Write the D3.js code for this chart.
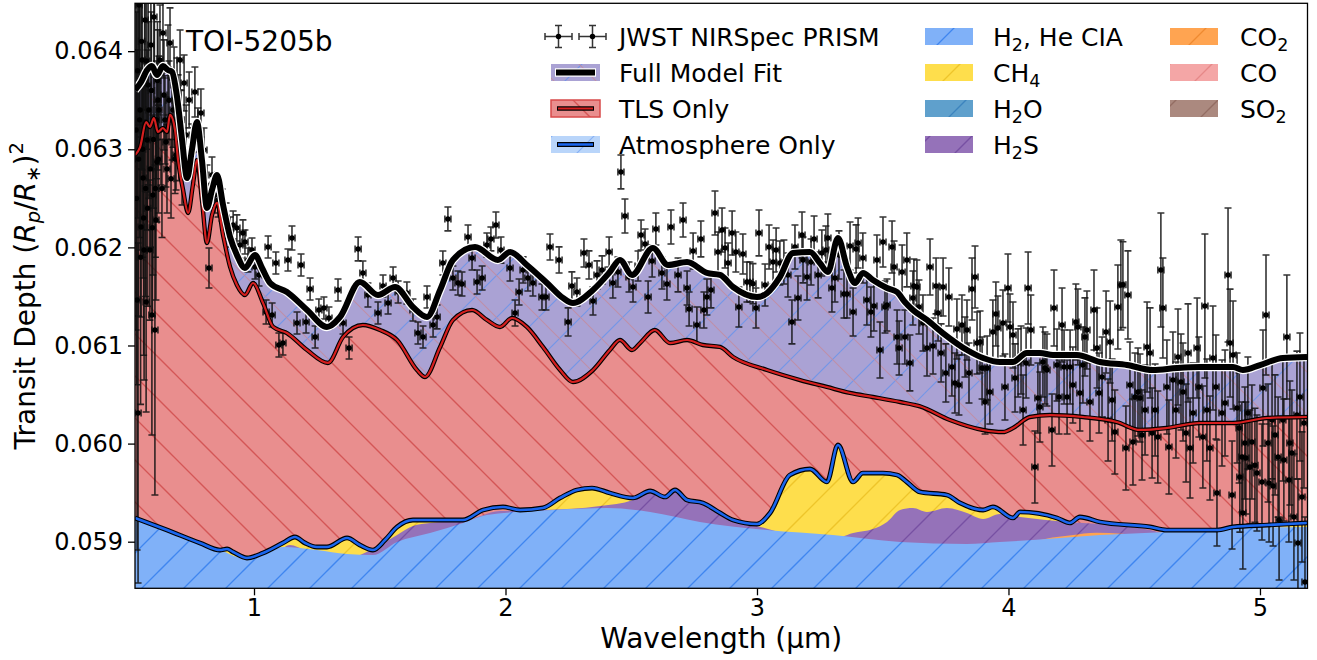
<!DOCTYPE html>
<html><head><meta charset="utf-8">
<script src="https://cdn.jsdelivr.net/npm/d3@7"></script>
<style>body{margin:0;background:#fff}svg text{font-family:"DejaVu Sans",sans-serif}</style>
</head><body><svg id="c" width="1317" height="660"></svg>
<script>
// ---------------- DATA (wavelength in µm, transit depth in ppm) ----------------
const obsWl = [
.531,.535,.539,.543,.547,.551,.555,.559,.563,.567,.571,.575,.579,.586,.590,.594,.598,.602,.606,.610,.614,.618,.626,.630,.638,.642,.650,.658,.666,.674,.682,.690,.698,.706,.714,.722,.730,.742,.753,.765,.777,.789,.801,.813,.821,.833,.845,.857,.873,.889,.905,.917,.932,.944,.956,.964,.976,.992,1.004,1.020,
1.048,1.056,1.072,1.087,1.099,1.115,1.135,1.151,1.171,1.187,1.207,1.223,1.243,1.258,1.278,1.298,1.334,1.354,1.378,1.414,1.433,1.453,1.493,1.513,1.533,1.553,1.573,1.608,1.632,1.652,1.672,1.688,
1.712,1.728,1.751,1.771,1.791,1.811,1.827,1.851,1.867,1.887,1.907,1.926,1.942,1.962,1.982,2.018,2.038,2.054,2.070,2.089,2.109,2.145,2.161,2.177,2.213,2.249,2.264,2.284,2.312,2.332,2.348,2.364,2.384,2.412,2.427,2.447,2.459,2.475,2.491,2.507,2.527,2.539,2.555,2.567,2.583,2.598,2.622,2.642,2.658,2.686,2.706,2.722,2.730,2.746,2.761,2.777,2.789,2.801,2.817,2.833,2.845,
2.861,2.873,2.885,2.901,2.916,2.928,2.944,2.960,2.972,2.984,2.996,3.008,3.032,3.048,3.064,3.076,3.091,3.107,3.123,3.139,3.151,3.163,3.179,3.183,3.199,3.215,3.227,3.243,3.258,3.274,3.282,3.298,3.310,3.326,3.346,3.358,3.370,3.382,3.394,3.402,3.421,3.437,3.453,3.465,3.477,3.489,3.501,3.509,3.517,3.537,3.545,3.557,3.565,3.577,3.588,3.596,3.608,3.620,3.624,3.636,3.644,3.660,3.676,3.688,3.700,3.712,3.720,3.732,3.740,3.751,3.763,3.775,3.787,3.795,3.803,3.815,3.827,3.835,3.843,3.855,3.867,3.875,3.887,3.895,3.907,3.915,3.926,3.938,3.950,3.958,
3.978,3.986,3.998,4.006,4.018,4.026,4.038,4.050,4.058,4.070,4.078,4.089,4.105,4.117,4.125,4.137,4.145,4.153,4.173,4.181,4.193,4.201,4.213,4.221,4.233,4.245,4.256,4.268,4.276,4.284,4.296,4.304,4.312,4.324,4.340,4.352,4.360,4.372,4.388,4.396,4.404,4.412,4.423,4.435,4.447,4.455,4.467,4.475,4.483,4.495,4.503,4.515,4.523,4.531,4.543,4.551,4.563,4.571,4.583,4.594,4.606,4.614,4.630,4.638,4.654,4.666,4.674,4.686,4.694,4.706,4.714,4.722,4.734,4.750,4.757,4.773,4.781,4.789,4.801,4.813,4.825,4.829,4.849,4.861,4.873,4.881,4.889,4.893,4.909,4.917,4.920,4.928,4.932,4.940,4.944,4.952,4.960,4.968,4.980,4.988,5.008,5.012,5.024,5.032,5.036,5.048,5.052,5.060,5.072,5.076,5.091,5.095,5.107,5.115,5.119,5.127,5.135,5.147,5.151,5.159,5.167,5.175,5.179,
.533,.537,.541,.545,.549,.553,.557,.561,.565,.569,.573,.577,.582,.588,.592,.596,.600,.604,.608,.612,.616,.620,.622,.634,.646,.654,.662,.670,.678,.686,.694,.702,.710
];
const obsDepth = [
63197,61464,60312,64471,63401,62208,63910,62707,61973,64318,61443,63095,63656,61973,64063,61311,62534,64349,61158,62279,62871,63503,63910,63197,64186,63554,63074,63808,64084,63299,63656,62942,63401,63910,62738,63676,63146,63503,62993,63584,63197,63370,62993,62636,61790,62738,62534,62483,62432,62300,62157,62228,62198,62024,62147,62055,61872,61973,61800,61719,
61341,62004,61311,61841,61005,61025,61872,62096,61229,61821,61240,61576,61087,61362,61382,61280,61566,61229,60974,61984,61739,61515,61331,61607,61433,61688,61545,61535,61362,61127,61087,61494,
61209,61291,61841,62290,61688,61637,61627,62106,61892,61647,61688,62024,62086,62228,61973,61790,61331,61545,61770,61688,61637,61494,61494,62004,61872,61240,61607,61545,61943,61821,61454,61719,61770,61953,61637,61749,62769,62320,61698,61596,61810,62126,62035,61494,61861,62188,61739,61627,62208,61719,62279,61586,61372,61963,61209,62086,61362,61494,61566,62351,61953,
62177,61994,61841,62147,61953,61392,61933,61647,61647,61630,61382,62147,61617,62004,61851,61973,61841,61851,61719,61240,62004,61484,62126,61872,61698,61851,62086,61719,61943,61973,62096,61586,61688,61923,61525,61525,62014,61341,61984,62045,61892,61464,61341,61403,61872,60954,62055,61392,61413,62004,61800,61087,60974,61749,61087,61872,60822,61484,61607,61596,61392,61229,60974,61800,60995,61607,61331,60924,61596,60720,61494,60781,60618,61168,60597,61209,60985,61158,60720,61576,61698,61025,61036,60771,60424,60771,60526,61138,61321,61178,
61229,60577,61586,61189,61107,60669,60822,60852,60342,60822,61586,61158,59761,60465,60373,60832,60771,60750,60139,61382,60801,60475,61209,60781,60475,60781,60597,61240,61189,60516,60801,61087,61158,60424,61362,60974,60516,60679,61138,60241,61036,60444,60118,61392,61617,61620,59955,61515,60597,60016,60475,60526,60465,60088,60342,60985,60924,60108,60342,60067,61770,61382,60577,59965,60648,60342,60883,60628,60526,60108,60924,59955,60312,60974,60577,60067,61403,60342,59955,60873,60577,59496,60312,60414,61719,61025,59476,60903,60363,60159,59659,59863,59292,60006,59853,60312,59761,60016,59780,59700,59608,60567,61311,60006,59598,60241,59568,60088,59863,59221,60241,59833,61087,59629,60006,59904,59252,60291,58987,60475,59456,60210,58589,
62500,63800,62900,63300,61900,64100,63000,62300,63700,62600,63900,62400,63400,62800,63600,62200,63100,63800,62600,63300,63700,62900,63400,62600,63300,62800,63500,62700,63400,62900,63600,63000,63300
];
const obsErr = [
2039,2549,1733,1223,1427,917,1121,1019,1325,917,1121,917,1019,714,816,1223,816,612,1682,816,612,714,561,561,459,561,459,459,357,408,387,357,357,306,306,285,306,285,265,255,224,245,224,204,204,183,183,173,163,153,153,143,133,133,133,122,122,122,122,112,
122,112,122,112,122,122,112,122,112,112,112,112,112,112,112,112,112,112,112,122,122,122,112,112,112,112,112,112,112,112,112,112,
122,122,122,122,122,122,122,122,122,122,122,122,122,133,133,133,133,133,133,133,133,133,133,133,133,143,143,143,143,143,143,143,143,153,153,153,173,173,153,153,153,153,153,163,163,163,163,163,173,173,173,173,173,183,183,183,183,183,183,224,204,
224,204,204,224,204,204,204,204,204,204,204,234,214,224,224,224,224,224,224,224,224,224,234,234,234,234,234,234,234,245,245,245,245,245,245,245,245,245,245,255,255,255,255,255,255,285,255,265,265,265,265,275,275,275,275,275,285,275,275,275,275,285,285,285,285,285,285,296,296,296,296,296,306,306,306,306,306,306,306,316,316,316,316,316,326,326,326,326,326,326,
336,336,347,336,336,347,347,347,357,357,367,357,367,357,357,357,367,367,367,387,367,377,377,377,377,377,387,387,387,387,387,398,398,398,408,408,408,408,418,418,418,418,428,428,459,438,428,449,438,438,449,449,449,459,459,459,459,459,469,469,581,510,479,479,489,489,489,489,500,500,500,510,510,510,510,520,734,520,530,530,530,540,540,540,683,550,550,550,561,561,561,561,571,571,571,571,581,581,581,591,591,591,612,601,601,601,612,612,612,612,622,622,632,632,632,642,642,652,652,652,663,663,663,
1900,1500,1600,1200,1500,1300,1100,1400,1000,1100,900,1000,900,800,800,900,700,700,700,600,600,550,550,500,450,450,400,400,380,350,330,320,300
];
const obsXErr = 0.012; // half bin width (µm)

const fullWl = [.527,.551,.575,.594,.614,.638,.658,.674,.694,.714,.734,.753,.773,.793,.813,.833,.853,.877,.905,.932,.964,1.004,1.032,1.064,1.131,1.211,1.290,1.342,1.421,1.493,1.561,1.632,1.688,1.740,1.791,1.879,1.970,2.018,2.085,2.165,2.229,2.268,2.348,2.415,2.455,2.503,2.586,2.646,2.722,2.801,2.853,2.905,3.000,3.040,3.091,3.143,3.211,3.250,3.282,3.322,3.358,3.390,3.421,3.461,3.517,3.557,3.588,3.620,3.676,3.739,3.835,3.899,3.966,4.018,4.073,4.125,4.177,4.272,4.364,4.471,4.574,4.670,4.761,4.893,4.932,5.000,5.091,5.187];
const fullDepth = [63605,63686,63808,63849,63757,63849,63808,63788,63533,63095,62707,62993,63278,62891,62402,62585,62738,62432,62106,61923,61790,61923,61790,61637,61545,61362,61189,61291,61647,61515,61596,61392,61291,61566,61872,62004,61872,61953,61821,61637,61484,61433,61566,61749,61872,61719,61994,61821,61851,61739,61719,61596,61494,61535,61698,61943,61953,61841,61749,62096,61800,61637,61739,61668,61586,61545,61443,61362,61260,61127,60954,60873,60832,60832,60924,60924,60903,60903,60832,60801,60750,60771,60781,60781,60750,60801,60873,60883];

const tlsWl = [.527,.547,.571,.586,.602,.618,.638,.654,.666,.686,.698,.718,.738,.757,.773,.793,.813,.833,.853,.877,.905,.932,.964,.996,1.036,1.076,1.131,1.211,1.294,1.354,1.433,1.501,1.569,1.648,1.680,1.740,1.791,1.867,1.926,1.978,2.026,2.085,2.149,2.217,2.268,2.348,2.415,2.455,2.503,2.535,2.594,2.654,2.722,2.785,2.853,2.905,3.040,3.171,3.278,3.370,3.461,3.569,3.648,3.767,3.899,3.978,4.018,4.085,4.165,4.296,4.431,4.523,4.630,4.761,4.893,5.028,5.187];
const tlsDepth = [62942,63023,63278,63227,63319,63176,63217,63176,63350,63197,62891,62585,62351,62636,62891,62483,62045,62330,62453,62126,61800,61617,61515,61637,61433,61189,61127,60954,60822,61087,61209,61158,61056,60750,60679,60985,61260,61362,61260,61189,61280,61189,60985,60750,60628,60750,60954,61056,60954,61025,61158,61025,61056,61005,60985,60883,60750,60648,60577,60516,60475,60424,60380,60241,60139,60118,60159,60271,60291,60271,60220,60139,60159,60210,60210,60261,60271];

const atmWl = [.527,.654,.785,.865,.893,.917,.972,1.036,1.115,1.163,1.203,1.250,1.290,1.370,1.421,1.473,1.521,1.569,1.632,1.700,1.831,1.911,1.990,2.058,2.149,2.217,2.284,2.344,2.415,2.507,2.575,2.634,2.674,2.722,2.785,2.853,2.905,3.000,3.052,3.131,3.211,3.278,3.322,3.382,3.421,3.501,3.557,3.596,3.648,3.755,3.807,3.899,3.938,4.018,4.046,4.193,4.244,4.284,4.364,4.563,4.630,4.829,4.893,5.028,5.187];
const atmDepth = [59242,59119,58987,58915,58926,58895,58834,58885,58987,59048,58987,58946,58946,59038,58966,58915,59017,59150,59221,59221,59221,59323,59354,59323,59344,59446,59527,59547,59496,59446,59517,59456,59527,59425,59395,59293,59221,59180,59293,59680,59741,59609,59986,59609,59700,59700,59680,59609,59507,59476,59395,59323,59354,59242,59303,59242,59191,59252,59201,59150,59119,59119,59150,59170,59191];

const ciaWl = [.527,.654,.785,.865,.956,1.036,1.115,1.183,1.250,1.370,1.473,1.569,1.700,1.831,1.926,2.189,2.404,2.575,2.773,3.040,3.302,3.569,3.835,3.966,4.097,4.364,4.630,4.893,5.187];
const ciaDepth = [59242,59119,58987,58915,58834,58875,58946,58936,58915,58875,58864,58997,59089,59191,59272,59323,59344,59303,59201,59119,59068,58997,58977,58997,59017,59068,59099,59140,59150];

const ch4Wl = [.527,.785,.845,.873,.893,.944,1.036,1.115,1.163,1.203,1.250,1.370,1.421,1.473,1.521,1.569,1.632,1.700,1.831,1.978,2.058,2.149,2.217,2.284,2.344,2.415,2.507,2.575,2.773,3.000,3.052,3.131,3.211,3.278,3.322,3.382,3.421,3.501,3.557,3.596,3.648,3.755,3.807,3.899,3.938,4.018,4.046,4.193,4.244,4.364,4.563,4.893,5.187];
const ch4Depth = [58559,58813,58895,58915,58915,58854,58864,58976,59038,58976,58936,59017,58956,58905,59007,59129,59201,59201,59170,59303,59292,59333,59435,59517,59537,59486,59415,59303,59170,59160,59282,59670,59731,59598,59975,59598,59690,59690,59670,59598,59496,59466,59384,59313,59343,59231,59282,59221,59160,59140,59089,59129,59170];

const h2sWl = [.527,.984,1.084,1.143,1.203,1.342,1.501,1.569,1.632,1.700,1.831,1.978,2.149,2.376,2.507,2.575,2.634,2.674,2.722,2.785,2.853,2.905,3.000,3.131,3.290,3.382,3.461,3.517,3.569,3.620,3.676,3.755,3.835,3.899,3.966,4.046,4.233,4.364,4.563,4.630,4.893,5.187];
const h2sDepth = [58609,58660,58864,58966,58915,58813,58966,59068,59160,59191,59211,59313,59323,59364,59425,59507,59456,59517,59425,59384,59282,59211,59160,59068,59017,59089,59129,59201,59323,59343,59303,59343,59292,59231,59282,59252,59201,59180,59119,59078,59068,59068];

const co2Wl = [.527,3.90,4.05,4.15,4.25,4.35,4.45,4.60,4.80,5.187];
const co2Depth = [58600,58750,58950,59030,59065,59090,59080,59040,58980,58900];

const xTicks = [1,2,3,4,5];
const yTicks = [0.059,0.060,0.061,0.062,0.063,0.064];

// ---------------- CHART ----------------
const X0=135, X1=1307.5, Y0=588.3, Y1=3.3;
const x = d3.scaleLinear().domain([0.5268,5.189]).range([X0,X1]);
const y = d3.scaleLinear().domain([0.058525,0.064488]).range([Y0,Y1]);
const svg = d3.select('#c');
const defs = svg.append('defs');
defs.append('clipPath').attr('id','clip').append('rect').attr('x',X0).attr('y',Y1).attr('width',X1-X0).attr('height',Y0-Y1);

function makePattern(id,bg,hatches){
  const p=defs.append('pattern').attr('id',id).attr('patternUnits','userSpaceOnUse')
    .attr('x',0).attr('y',0).attr('width',42).attr('height',42);
  p.append('rect').attr('width',42).attr('height',42).attr('fill',bg);
  hatches.forEach(h=>{
    const c = h.dir==='/'?16:31;
    [-84,-42,0,42,84].forEach(k=>{
      const K=c+k; let a;
      if(h.dir==='/') a=[-10,K+10,K+10,-10]; else a=[-10,K-10,52,K+52];
      p.append('line').attr('x1',a[0]).attr('y1',a[1]).attr('x2',a[2]).attr('y2',a[3])
        .attr('stroke',h.color).attr('stroke-width',h.w).attr('stroke-opacity',h.o||1);
    });
  });
}
makePattern('pFull','#aaa2d4',[{dir:'/',color:'#7396e8',w:1.2},{dir:'\\',color:'#c38a9c',w:1.1,o:0.8}]);
makePattern('pTLS','#e98e8e',[{dir:'\\',color:'#d45656',w:1.3}]);
makePattern('pAtm','#b9d5fa',[{dir:'/',color:'#86b0f5',w:1.2}]);
makePattern('pCIA','#80b1f8',[{dir:'/',color:'#3f86f0',w:1.3}]);
makePattern('pCH4','#fede4c',[{dir:'/',color:'#eec52a',w:1.3}]);
makePattern('pH2O','#5fa0cc',[{dir:'/',color:'#3c84be',w:1.3}]);
makePattern('pH2S','#9572b9',[{dir:'/',color:'#7750a3',w:1.3}]);
makePattern('pCO2','#ffa451',[{dir:'/',color:'#ef8a30',w:1.3}]);
makePattern('pCO','#f4a6a6',[{dir:'/',color:'#e68888',w:1.3}]);
makePattern('pSO2','#ab897f',[{dir:'/',color:'#936d63',w:1.3}]);

const ser=(w,d)=>w.map((v,i)=>({w:v,v:d[i]/1e6}));
const area=d3.area().curve(d3.curveMonotoneX).x(d=>x(d.w)).y0(Y0).y1(d=>y(d.v));
const line=d3.line().curve(d3.curveMonotoneX).x(d=>x(d.w)).y(d=>y(d.v));

const plot=svg.append('g').attr('clip-path','url(#clip)');
const full=ser(fullWl,fullDepth), tls=ser(tlsWl,tlsDepth), atm=ser(atmWl,atmDepth);
plot.append('path').attr('d',area(full)).attr('fill','url(#pFull)');
plot.append('path').attr('d',area(tls)).attr('fill','url(#pTLS)');
plot.append('path').attr('d',area(ser(ch4Wl,ch4Depth))).attr('fill','url(#pCH4)');
plot.append('path').attr('d',area(ser(h2sWl,h2sDepth))).attr('fill','url(#pH2S)');
plot.append('path').attr('d',area(ser(co2Wl,co2Depth))).attr('fill','url(#pCO2)');
plot.append('path').attr('d',area(ser(ciaWl,ciaDepth))).attr('fill','url(#pCIA)');

// observations
const n=Math.min(obsWl.length,obsDepth.length,obsErr.length);
const obs=d3.range(n).map(i=>({w:obsWl[i],v:obsDepth[i]/1e6,e:obsErr[i]/1e6}));
const eb=plot.append('g').attr('stroke','#111').attr('stroke-opacity',0.85).attr('stroke-width',1.6).attr('fill','none');
const cap=3.5;
obs.forEach(d=>{
  const cx=x(d.w), cy=y(d.v), t=y(d.v+d.e), b=y(d.v-d.e), l=x(d.w-obsXErr), r=x(d.w+obsXErr);
  eb.append('path').attr('d',`M${cx},${t}V${b}M${cx-cap},${t}H${cx+cap}M${cx-cap},${b}H${cx+cap}M${l},${cy}H${r}M${l},${cy-cap}V${cy+cap}M${r},${cy-cap}V${cy+cap}`);
});
plot.append('g').selectAll('circle').data(obs).join('circle')
  .attr('cx',d=>x(d.w)).attr('cy',d=>y(d.v)).attr('r',2.7).attr('fill','#000');

// model lines
plot.append('path').attr('d',line(atm)).attr('fill','none').attr('stroke','#000').attr('stroke-width',4.8);
plot.append('path').attr('d',line(atm)).attr('fill','none').attr('stroke','#1a66ee').attr('stroke-width',2.6);
plot.append('path').attr('d',line(tls)).attr('fill','none').attr('stroke','#000').attr('stroke-width',4.4);
plot.append('path').attr('d',line(tls)).attr('fill','none').attr('stroke','#d61f1f').attr('stroke-width',2.2);
plot.append('path').attr('d',line(full)).attr('fill','none').attr('stroke','#fff').attr('stroke-width',8.5);
plot.append('path').attr('d',line(full)).attr('fill','none').attr('stroke','#000').attr('stroke-width',6);

// axes
const styleAxis=g=>{g.select('.domain').remove();
  g.selectAll('text').attr('font-size',24).attr('font-family','DejaVu Sans').attr('fill','#000');
  g.selectAll('line').attr('stroke','#000').attr('stroke-width',1.3);};
svg.append('g').attr('transform',`translate(0,${Y0})`)
  .call(d3.axisBottom(x).tickValues(xTicks).tickFormat(d3.format('d')).tickSize(7).tickPadding(4)).call(styleAxis);
svg.append('g').attr('transform',`translate(${X0},0)`)
  .call(d3.axisLeft(y).tickValues(yTicks).tickFormat(d3.format('.3f')).tickSize(7).tickPadding(5)).call(styleAxis);
svg.append('rect').attr('x',X0).attr('y',Y1).attr('width',X1-X0).attr('height',Y0-Y1)
  .attr('fill','none').attr('stroke','#000').attr('stroke-width',1.3);

// labels
svg.append('text').attr('x',(X0+X1)/2).attr('y',648).attr('text-anchor','middle').attr('font-size',28).text('Wavelength (µm)');
const yl=svg.append('text').attr('transform',`translate(35,${(Y0+Y1)/2}) rotate(-90)`).attr('text-anchor','middle').attr('font-size',28);
yl.append('tspan').text('Transit Depth (');
yl.append('tspan').attr('font-style','italic').text('R');
yl.append('tspan').attr('font-style','italic').attr('font-size',19.6).attr('dy',5).text('p');
yl.append('tspan').attr('dy',-5).text('/');
yl.append('tspan').attr('font-style','italic').text('R');
yl.append('tspan').attr('font-size',19.6).attr('dy',5).text('∗');
yl.append('tspan').attr('dy',-5).text(')');
yl.append('tspan').attr('font-size',19.6).attr('dy',-12).text('2');
svg.append('text').attr('x',186).attr('y',51).attr('font-size',28).text('TOI-5205b');

// legend
const rows=[36.5,72.5,108.5,144.5];
const lg=svg.append('g');
function label(xp,yp,parts){
  const t=lg.append('text').attr('x',xp).attr('y',yp+9).attr('font-size',25);
  let shifted=false;
  parts.forEach(p=>{
    if(typeof p==='string'){ const s=t.append('tspan').text(p); if(shifted){s.attr('dy',-5);shifted=false;} }
    else { t.append('tspan').attr('font-size',17.5).attr('dy',5).text(p.sub); shifted=true; }
  });
}
// JWST handle
[558.5,592.5].forEach(cx=>{
  const cy=rows[0];
  lg.append('path').attr('d',`M${cx},${cy-11}V${cy+11}M${cx-3.5},${cy-11}H${cx+3.5}M${cx-3.5},${cy+11}H${cx+3.5}M${cx-13.5},${cy}H${cx+13.5}M${cx-13.5},${cy-3.5}V${cy+3.5}M${cx+13.5},${cy-3.5}V${cy+3.5}`)
    .attr('stroke','#111').attr('stroke-width',1.5).attr('fill','none').attr('stroke-opacity',0.85);
  lg.append('circle').attr('cx',cx).attr('cy',cy).attr('r',2.7).attr('fill','#000');
});
label(619,rows[0],['JWST NIRSpec PRISM']);
lg.append('rect').attr('x',551).attr('y',rows[1]-8.5).attr('width',49).attr('height',17).attr('fill','url(#pFull)');
lg.append('line').attr('x1',555).attr('x2',596).attr('y1',rows[1]).attr('y2',rows[1]).attr('stroke','#fff').attr('stroke-width',8.5);
lg.append('line').attr('x1',556).attr('x2',595).attr('y1',rows[1]).attr('y2',rows[1]).attr('stroke','#000').attr('stroke-width',6);
label(619,rows[1],['Full Model Fit']);
lg.append('rect').attr('x',551).attr('y',rows[2]-8.5).attr('width',49).attr('height',17).attr('fill','url(#pTLS)').attr('stroke','#d84a4a').attr('stroke-width',1.5);
lg.append('line').attr('x1',557).attr('x2',594).attr('y1',rows[2]).attr('y2',rows[2]).attr('stroke','#000').attr('stroke-width',4.4);
lg.append('line').attr('x1',558).attr('x2',593).attr('y1',rows[2]).attr('y2',rows[2]).attr('stroke','#d61f1f').attr('stroke-width',2.2);
label(619,rows[2],['TLS Only']);
lg.append('rect').attr('x',551).attr('y',rows[3]-8.5).attr('width',49).attr('height',17).attr('fill','url(#pAtm)');
lg.append('line').attr('x1',557).attr('x2',594).attr('y1',rows[3]).attr('y2',rows[3]).attr('stroke','#000').attr('stroke-width',4.8);
lg.append('line').attr('x1',558).attr('x2',593).attr('y1',rows[3]).attr('y2',rows[3]).attr('stroke','#1a66ee').attr('stroke-width',2.6);
label(619,rows[3],['Atmosphere Only']);

const mols=[
  {col:0,row:0,pat:'pCIA',parts:['H',{sub:'2'},', He CIA']},
  {col:0,row:1,pat:'pCH4',parts:['CH',{sub:'4'}]},
  {col:0,row:2,pat:'pH2O',parts:['H',{sub:'2'},'O']},
  {col:0,row:3,pat:'pH2S',parts:['H',{sub:'2'},'S']},
  {col:1,row:0,pat:'pCO2',parts:['CO',{sub:'2'}]},
  {col:1,row:1,pat:'pCO',parts:['CO']},
  {col:1,row:2,pat:'pSO2',parts:['SO',{sub:'2'}]}
];
const colPX=[925,1170], colTX=[993,1240];
mols.forEach(m=>{
  lg.append('rect').attr('x',colPX[m.col]).attr('y',rows[m.row]-8.5).attr('width',48).attr('height',17).attr('fill',`url(#${m.pat})`);
  label(colTX[m.col],rows[m.row],m.parts);
});
</script></body></html>
